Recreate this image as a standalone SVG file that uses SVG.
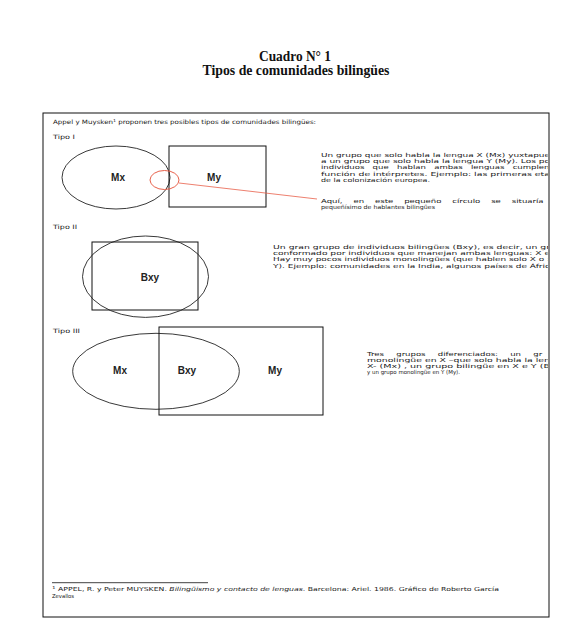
<svg xmlns="http://www.w3.org/2000/svg" width="572" height="620" viewBox="0 0 572 620">
<defs>
<style>
.title{font-family:"Liberation Serif","Times New Roman",serif;font-weight:bold;font-size:14px;fill:#111;text-anchor:middle}
.t{font-family:"DejaVu Sans","Liberation Sans",Arial,sans-serif;font-size:5.5px;fill:#1a1a1a}
.h{font-family:"DejaVu Sans","Liberation Sans",Arial,sans-serif;font-size:6px;fill:#1a1a1a}
.lbl{font-family:"Liberation Sans",Arial,sans-serif;font-size:10px;font-weight:bold;fill:#222;text-anchor:middle}
.sh{fill:none;stroke:#111;stroke-width:1}
.el{fill:none;stroke:#222;stroke-width:0.9}
</style>
<clipPath id="clip"><rect x="40" y="100" width="508" height="520"/></clipPath>
</defs>
<rect width="572" height="620" fill="#fff"/>
<text class="title" x="295" y="61" textLength="72" lengthAdjust="spacingAndGlyphs">Cuadro N° 1</text>
<text class="title" x="296" y="75" textLength="187" lengthAdjust="spacingAndGlyphs">Tipos de comunidades bilingües</text>
<rect x="43" y="113" width="506" height="504" class="sh" stroke-width="1.2"/>
<text class="h" x="53" y="124" textLength="263" lengthAdjust="spacingAndGlyphs">Appel y Muysken<tspan font-size="4" dy="-2.5">1</tspan><tspan dy="2.5"> proponen tres posibles tipos de comunidades bilingües:</tspan></text>

<g id="tipo1">
<text class="h" x="53" y="139" textLength="22" lengthAdjust="spacingAndGlyphs">Tipo I</text>
<g id="t1-mx"><ellipse cx="116" cy="177.5" rx="54" ry="31.5" class="el"/><text class="lbl" x="118" y="181">Mx</text></g>
<g id="t1-my"><rect x="169" y="146" width="97" height="61" class="sh"/><text class="lbl" x="214" y="181">My</text></g>
<g id="t1-bil"><ellipse cx="164.5" cy="180" rx="14.5" ry="9.5" fill="none" stroke="#e8604a" stroke-width="1"/></g>
<g clip-path="url(#clip)">
<text class="t" x="321" y="157" textLength="229" lengthAdjust="spacingAndGlyphs">Un grupo que solo habla la lengua X (Mx) yuxtapue</text>
<text class="t" x="321" y="163.2" textLength="229" lengthAdjust="spacingAndGlyphs">a un grupo que solo habla la lengua Y (My). Los po</text>
<text class="t" transform="translate(321,169.4) scale(1.55,1)" word-spacing="3.6">individuos que hablan ambas lenguas cumplen</text>
<text class="t" x="321" y="175.6" textLength="229" lengthAdjust="spacingAndGlyphs">función de intérpretes. Ejemplo: las primeras eta</text>
<text class="t" x="321" y="181.8" textLength="109" lengthAdjust="spacingAndGlyphs">de la colonización europea.</text>
<text class="t" transform="translate(321,202.5) scale(1.55,1)" word-spacing="5.3">Aquí, en este pequeño círculo se situaría</text>
<text class="t" x="321" y="208.7" textLength="114" lengthAdjust="spacingAndGlyphs">pequeñísimo de hablantes bilingües</text>
</g>
</g>

<g id="tipo2">
<text class="h" x="53" y="229" textLength="24" lengthAdjust="spacingAndGlyphs">Tipo II</text>
<g id="t2-rect"><rect x="92" y="242" width="106" height="68" class="sh"/></g>
<g id="t2-bxy"><ellipse cx="145.5" cy="276.7" rx="63" ry="40.7" class="el"/><text class="lbl" x="150" y="280.5">Bxy</text></g>
<g clip-path="url(#clip)">
<text class="t" x="273" y="249" textLength="277" lengthAdjust="spacingAndGlyphs">Un gran grupo de individuos bilingües (Bxy), es decir, un gr</text>
<text class="t" x="273" y="255.2" textLength="277" lengthAdjust="spacingAndGlyphs">conformado por individuos que manejan ambas lenguas: X e</text>
<text class="t" x="273" y="261.4" textLength="277" lengthAdjust="spacingAndGlyphs">Hay muy pocos individuos monolingües (que hablen solo X o :</text>
<text class="t" x="273" y="267.6" textLength="277" lengthAdjust="spacingAndGlyphs">Y). Ejemplo: comunidades en la India, algunos países de Áfric</text>
</g>
</g>

<g id="tipo3">
<text class="h" x="53" y="333" textLength="27" lengthAdjust="spacingAndGlyphs">Tipo III</text>
<g id="t3-x"><ellipse cx="156" cy="371.3" rx="83.3" ry="38" class="el"/><text class="lbl" x="120" y="373.5">Mx</text></g>
<g id="t3-y"><rect x="159" y="327" width="164" height="88" class="sh"/><text class="lbl" x="275" y="373.5">My</text></g>
<g id="t3-bxy"><text class="lbl" x="187" y="373.5">Bxy</text></g>
<g clip-path="url(#clip)">
<text class="t" transform="translate(367,355.5) scale(1.55,1)" word-spacing="6.2">Tres grupos diferenciados: un gr</text>
<text class="t" x="367" y="361.7" textLength="183" lengthAdjust="spacingAndGlyphs">monolingüe en X –que solo habla la len</text>
<text class="t" x="367" y="367.9" textLength="183" lengthAdjust="spacingAndGlyphs">X- (Mx) , un grupo bilingüe en X e Y (B</text>
<text class="t" x="367" y="374.1" textLength="93" lengthAdjust="spacingAndGlyphs">y un grupo monolingüe en Y (My).</text>
</g>
</g>

<g id="connectors">
<line x1="179" y1="183" x2="317" y2="199" stroke="#e8604a" stroke-width="0.8"/>
</g>

<g id="footnote">
<line x1="52" y1="582.7" x2="208" y2="582.7" stroke="#111" stroke-width="0.8"/>
<text class="t" x="52" y="591" textLength="447" lengthAdjust="spacingAndGlyphs"><tspan font-size="4" dy="-2">1</tspan><tspan dy="2"> APPEL, R. y Peter MUYSKEN. </tspan><tspan font-style="italic">Bilingüismo y contacto de lenguas</tspan>. Barcelona: Ariel. 1986. Gráfico de Roberto García</text>
<text class="t" x="52" y="597.5" textLength="22" lengthAdjust="spacingAndGlyphs">Zevallos</text>
</g>
</svg>
